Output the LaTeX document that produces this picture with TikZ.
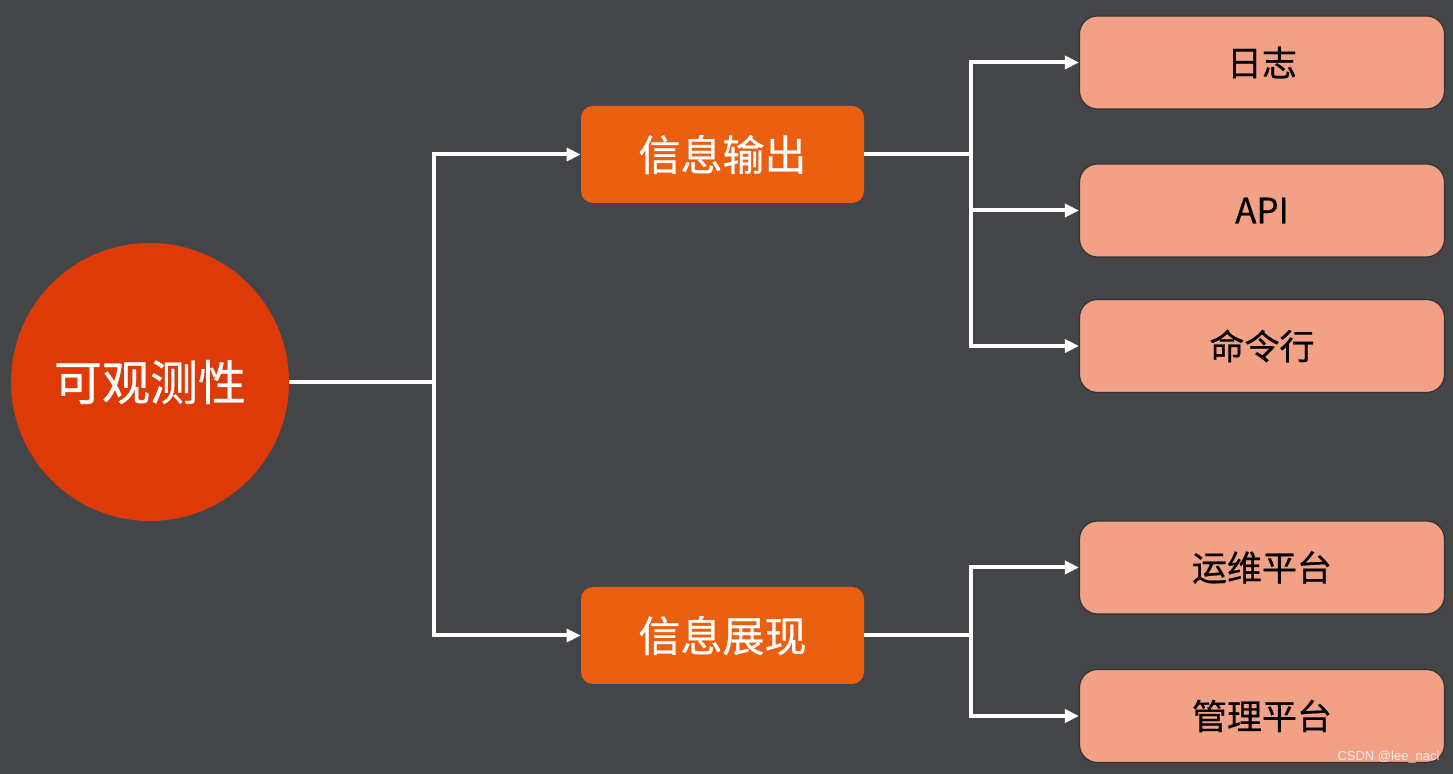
\documentclass[tikz,border=0pt]{standalone}
\usepackage{fontspec}
\newfontfamily\cjk[FakeBold=0.5]{Noto Sans CJK SC}
\newfontfamily\wmfont{Liberation Sans}
\usetikzlibrary{arrows.meta,positioning}
\definecolor{bgdark}{HTML}{444548}
\definecolor{rootred}{HTML}{DE3A08}
\definecolor{midorange}{HTML}{EB5F10}
\definecolor{leafpink}{HTML}{F2A086}

\begin{document}
\begin{tikzpicture}[x=0.5pt,y=-0.5pt,
    root/.style={circle,fill=rootred,minimum size=139pt,inner sep=0pt,text=white,font=\cjk\fontsize{24}{28}\selectfont},
    mid/.style={rectangle,rounded corners=6pt,fill=midorange,minimum width=141.5pt,minimum height=48.5pt,text=white,font=\cjk\fontsize{21}{25}\selectfont},
    leaf/.style={rectangle,rounded corners=9pt,draw=black!80,line width=0.6pt,fill=leafpink,minimum width=182.5pt,minimum height=46.5pt,text=black,font=\cjk\fontsize{17.5}{21}\selectfont},
    link/.style={white,line width=2pt},
    arrow/.style={link,-{Triangle[length=7pt,width=6.5pt]}}]
    \fill[bgdark] (0,0) rectangle (1453,774);
    \useasboundingbox (0,0) rectangle (1453,774);
    % nodes
    \node[root] (obs) at (150,382) {可观测性};
    \node[mid] (out) at (722.5,154.5) {信息输出};
    \node[mid] (show) at (722.5,635.5) {信息展现};
    \node[leaf] (log) at (1262,62.5) {日志};
    \node[leaf] (api) at (1262,210.5) {API};
    \node[leaf] (cli) at (1262,346) {命令行};
    \node[leaf] (ops) at (1262,567.5) {运维平台};
    \node[leaf] (mgmt) at (1262,716) {管理平台};
    % junctions
    \coordinate (j0) at (434,382);
    \coordinate (j1) at (971,154.5);
    \coordinate (j2) at (971,635.5);
    % connectors
    \draw[link] (obs) -- (j0);
    \draw[arrow] (j0) |- (out);
    \draw[arrow] (j0) |- (show);
    \draw[link] (out) -- (j1);
    \foreach \n in {log,api,cli}
        \draw[arrow] (j1) |- (\n);
    \draw[link] (show) -- (j2);
    \foreach \n in {ops,mgmt}
        \draw[arrow] (j2) |- (\n);
    \node[anchor=east,text=white!85!gray,font=\wmfont\fontsize{6.5}{8}\selectfont,inner sep=0pt] (wm) at (1440,757) {CSDN @lee\_nacl};
\end{tikzpicture}
\end{document}
